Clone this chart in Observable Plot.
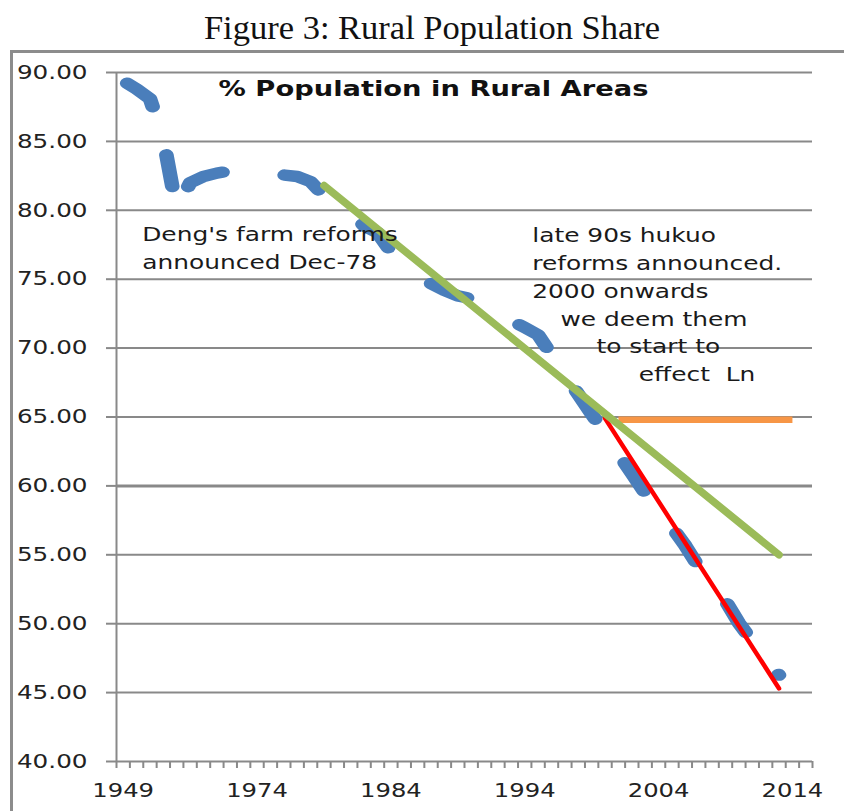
<!DOCTYPE html>
<html>
<head>
<meta charset="utf-8">
<script src="https://cdn.jsdelivr.net/npm/d3@7"></script>
<script src="https://cdn.jsdelivr.net/npm/@observablehq/plot@0.6"></script>
<style>
  html, body { margin: 0; padding: 0; background: #fff; }
  body { width: 844px; height: 811px; overflow: hidden; position: relative; }
  #title { position: absolute; left: 20px; top: 10px; width: 824px; text-align: center;
           font-family: "Liberation Serif", serif; font-size: 34.5px; line-height: 34px; color: #111; }
  #frame { position: absolute; left: 10px; top: 50px; width: 1000px; height: 1000px;
           border-left: 3px solid #8c8c8c; border-top: 3px solid #8c8c8c; }
  #chart { position: absolute; left: 0; top: 50px; }
</style>
</head>
<body>
<div id="title">Figure 3: Rural Population Share</div>
<div id="frame"></div>
<div id="chart"></div>
<script>
// ---- data ----
const categories = [
  "1949","1950","1952","1957","1960","1962","1965","1968","1970","1972",
  "1974","1975","1976","1977","1978","1979","1980","1981","1982","1983",
  "1984","1985","1986","1987","1988","1989","1990","1991","1992","1993",
  "1994","1995","1996","1997","1998","1999","2000","2001","2002","2003",
  "2004","2005","2006","2007","2008","2009","2010","2011","2012","2013",
  "2014","2015"
];
const rural = [
  89.40, 88.80, 88.10, 85.20, 80.00, 82.00, 82.45, 82.70, 82.85, 82.85,
  82.84, 82.66, 82.56, 82.45, 82.08, 81.04, 80.61, 79.84, 78.87, 78.38,
  76.99, 76.29, 75.48, 74.68, 74.19, 73.79, 73.59, 73.06, 72.54, 72.01,
  71.49, 70.96, 69.52, 68.09, 66.65, 65.22, 63.78, 62.34, 60.91, 59.47,
  58.24, 57.01, 55.66, 54.11, 53.01, 51.66, 50.05, 48.73, 47.43, 46.27,
  null, null
];
const greenYears = ["1979", "2013"];
const greenValues = [81.8, 55.0];
const redYears = ["2000", "2013"];
const redValues = [64.9, 45.3];
const orangeYears = ["2001", "2014"];
const orangeValues = [64.8, 64.8];
const yTicks = [40, 45, 50, 55, 60, 65, 70, 75, 80, 85, 90];
const xLabels = ["1949", "1974", "1984", "1994", "2004", "2014"];
const chartTitle = "% Population in Rural Areas";
const dengNote = ["Deng's farm reforms", "announced Dec-78"];
const hukouNote = ["late 90s hukuo", "reforms announced.", "2000 onwards", "we deem them", "to start to", "effect\u00a0 Ln"];

// ---- layout of annotations (category index, value) ----
const dengPos = [[1.92, 78.23], [1.92, 76.18]];
const hukouPos = [[31.06, 78.11], [31.06, 76.10], [31.06, 74.07], [33.17, 72.06], [35.86, 70.05], [39.02, 68.07]];
const notes = [
  ...dengNote.map((t, j) => ({text: t, x: dengPos[j][0], y: dengPos[j][1]})),
  ...hukouNote.map((t, j) => ({text: t, x: hukouPos[j][0], y: hukouPos[j][1]}))
];

const idx = y => categories.indexOf(y) + 0.5;
const blue = categories.map((c, i) => ({x: i + 0.5, v: rural[i]}));
const series = (years, vals) => years.map((y, j) => ({x: idx(y), v: vals[j]}));
const grid = "#898989";
const STRETCH = 1.27;   // the source picture is widened horizontally
const LEFT = 116;

const chart = Plot.plot({
  width: 844, height: 761,
  marginLeft: LEFT, marginRight: 32, marginTop: 22, marginBottom: 50,
  x: {type: "linear", domain: [0, categories.length], axis: null},
  y: {domain: [40, 90], axis: null},
  style: {fontFamily: "DejaVu Sans", background: "transparent", overflow: "visible"},
  marks: [
    Plot.ruleY(yTicks.filter(d => d !== 60), {stroke: grid, strokeWidth: 2}),
    Plot.ruleY([60], {stroke: grid, strokeWidth: 3}),
    Plot.ruleX([0], {stroke: grid, strokeWidth: 2}),
    Plot.axisY({ticks: yTicks, tickSize: 10, tickPadding: 19, tickFormat: d => d.toFixed(2),
      stroke: grid, strokeWidth: 2, fill: "#222", fontSize: 19.5, label: null}),
    Plot.axisX({ticks: d3.range(categories.length + 1), tickSize: 7, tickFormat: () => "",
      stroke: grid, strokeWidth: 2, label: null}),
    Plot.axisX({ticks: xLabels.map(idx), tickSize: 0, tickPadding: 22,
      tickFormat: t => categories[Math.floor(t)], fill: "#222", fontSize: 19.5, label: null}),
    Plot.line(blue, {x: "x", y: "v", stroke: "#4A7EBB", strokeWidth: 11.5,
      strokeLinecap: "round", strokeLinejoin: "round", strokeDasharray: "32 49.4", strokeDashoffset: -4}),
    Plot.line(series(redYears, redValues), {x: "x", y: "v", stroke: "#FF0000", strokeWidth: 4.5, strokeLinecap: "round"}),
    Plot.line(series(orangeYears, orangeValues), {x: "x", y: "v", stroke: "#F79646", strokeWidth: 6.5, strokeLinecap: "butt"}),
    Plot.line(series(greenYears, greenValues), {x: "x", y: "v", stroke: "#9BBB59", strokeWidth: 7.5, strokeLinecap: "round"}),
    Plot.text([chartTitle], {frameAnchor: "top-left", lineAnchor: "middle", textAnchor: "start",
      dx: 102, dy: 16.3, fontWeight: "bold", fontSize: 21, fill: "#111"}),
    Plot.text(notes, {x: "x", y: "y", text: "text", textAnchor: "start", lineAnchor: "middle",
      fontSize: 19, fill: "#1a1a1a"})
  ]
});
document.getElementById("chart").appendChild(chart);

// The blue dashed series: lay the dash pattern out in the un-widened space, then widen.
const bluePath = chart.querySelector('g[aria-label="line"] path');
if (bluePath) {
  const d = bluePath.getAttribute("d");
  const nd = d.replace(/([MLml])\s*(-?[\d.]+(?:e-?\d+)?)[ ,](-?[\d.]+(?:e-?\d+)?)/g,
    (m, c, x, y) => `${c}${LEFT + (+x - LEFT) / STRETCH},${y}`);
  bluePath.setAttribute("d", nd);
  bluePath.setAttribute("transform", `translate(${LEFT},0) scale(${STRETCH},1) translate(${-LEFT},0)`);
}

// horizontal stretch of the Excel-style texts
chart.querySelectorAll("text").forEach(t => {
  const b = t.getBBox();
  if (!b.width) return;
  const g = t.closest("g[aria-label]");
  const label = g ? g.getAttribute("aria-label") : "";
  let k = 1.31;
  if (label === "y-axis tick label") k = 1.265;
  else if (label === "x-axis tick label") k = 1.245;
  else if (t.textContent === chartTitle) k = 430 / b.width;
  const anchor = getComputedStyle(t).textAnchor;
  const ax = anchor === "end" ? b.x + b.width : anchor === "middle" ? b.x + b.width / 2 : b.x;
  const tr = t.getAttribute("transform") || "";
  t.setAttribute("transform", `${tr} translate(${ax},0) scale(${k},1) translate(${-ax},0)`);
});
</script>
</body>
</html>
